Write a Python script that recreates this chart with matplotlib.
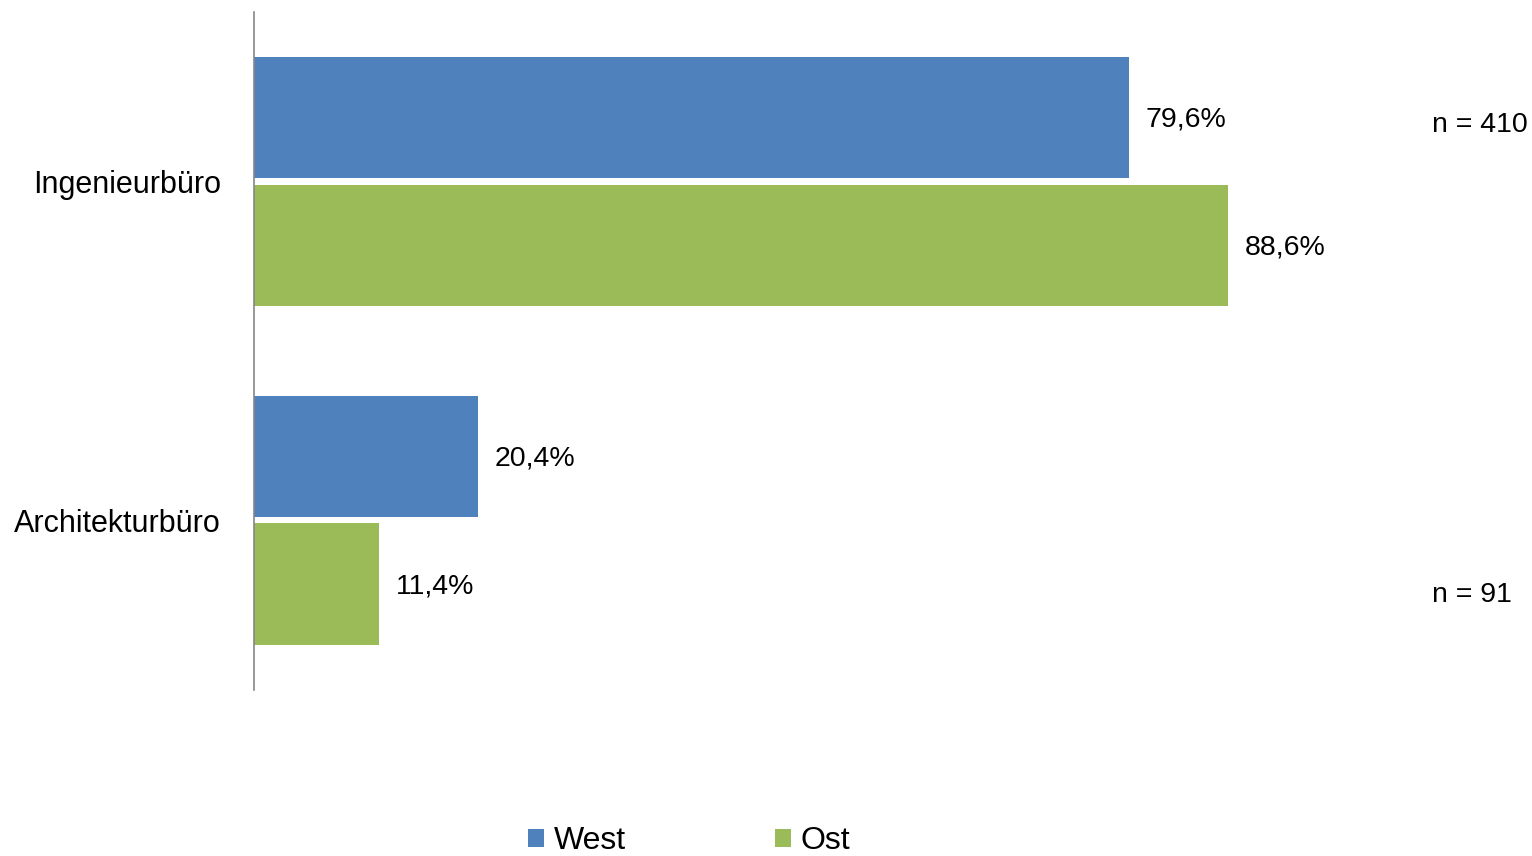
import matplotlib
matplotlib.use("Agg")
import matplotlib.pyplot as plt
from matplotlib import font_manager
from matplotlib.patches import Patch

# Data
categories = ["Ingenieurbüro", "Architekturbüro"]
series_names = ["West", "Ost"]
west = [79.6, 20.4]
ost = [88.6, 11.4]
n_labels = ["n = 410", "n = 91"]

colors = {"West": "#4F81BD", "Ost": "#9BBB59"}

installed = {f.name for f in font_manager.fontManager.ttflist}
family = "Liberation Sans Narrow" if "Liberation Sans Narrow" in installed else "Liberation Sans"
plt.rcParams["font.family"] = [family, "DejaVu Sans"]

fig = plt.figure(figsize=(15.32, 8.56), dpi=100)
ax = fig.add_axes([0.1658, 0.194, 0.7174, 0.792])

bar_h = 0.357
off = bar_h / 2 + 0.009
ypos = list(range(len(categories)))

for vals, name, sign in ((west, "West", -1), (ost, "Ost", 1)):
    ys = [y + sign * off for y in ypos]
    ax.barh(ys, vals, height=bar_h, color=colors[name], edgecolor="none")
    for y, v in zip(ys, vals):
        ax.text(v + 1.5, y + 0.006, f"{v:.1f}%".replace(".", ","), va="center", ha="left",
                fontsize=20.5, color="black")

ax.set_xlim(0, 100)
ax.set_ylim(1.5, -0.5)
ax.set_yticks(ypos)
ax.set_yticklabels(categories, fontsize=22)
ax.tick_params(axis="y", length=0, pad=24)
ax.set_xticks([])
for s in ("top", "right", "bottom"):
    ax.spines[s].set_visible(False)
ax.spines["left"].set_color("#868686")
ax.spines["left"].set_linewidth(1.2)

n_y = [-0.166, 1.220]
for y, lab in zip(n_y, n_labels):
    ax.text(107.2, y, lab, va="center", ha="left", fontsize=20.5, clip_on=False)

handles = [Patch(facecolor=colors[n], edgecolor="none", label=n) for n in series_names]
fig.legend(handles=handles, loc="center", bbox_to_anchor=(0.4497, 0.0175), ncol=2,
           frameon=False, fontsize=23, handlelength=0.5, handleheight=0.5,
           handletextpad=0.31, columnspacing=4.66)

fig.savefig("out.png", dpi=100)
